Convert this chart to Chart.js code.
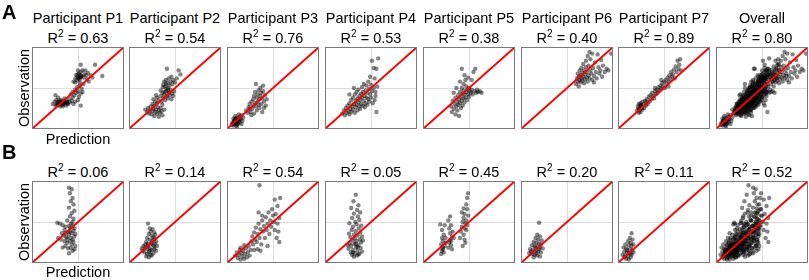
<!DOCTYPE html>
<html>
<head>
<meta charset="utf-8">
<script src="https://cdn.jsdelivr.net/npm/chart.js@4.4.1/dist/chart.umd.min.js"></script>
<style>
  html, body { margin: 0; padding: 0; background: #fff; }
  body { width: 809px; height: 280px; position: relative; overflow: hidden;
         font-family: "Liberation Sans", Arial, sans-serif; color: #000; }
  .txt { position: absolute; font-size: 14.5px; line-height: 16px; height: 16px;
         text-align: center; white-space: nowrap; }
  .txt sup { font-size: 10px; line-height: 0; vertical-align: 6px; }
  .tag { position: absolute; font-size: 20px; font-weight: bold; line-height: 22px; }
  .cv { position: absolute; }
</style>
</head>
<body>
<script>
// axis units: 0..100 on both prediction (x) and observation (y)
const titles = ['Participant P1', 'Participant P2', 'Participant P3', 'Participant P4',
                'Participant P5', 'Participant P6', 'Participant P7', 'Overall'];
const r2A = ['0.63', '0.54', '0.76', '0.53', '0.38', '0.40', '0.89', '0.80'];
const r2B = ['0.06', '0.14', '0.54', '0.05', '0.45', '0.20', '0.11', '0.52'];
const axisTicks = [0, 50, 100];
const diagonal = [[0, 0], [100, 100]];

// row A: model fitted per participant
const partA1 = [[22,30],[24,33],[25,28],[26,35],[27,31],[28,29],[29,33],[30,27],[30,31],[31,35],[32,29],[33,32],[33,27],[34,30],[35,34],[36,31],[37,28],[38,33],[39,30],[40,36],[41,32],[43,34],[44,38],[45,30],[47,33],[50,35],[53,28],[25,41],[28,38],[35,37],
  [29.5,30],[31.5,32],[33.5,29.5],[30.5,34],[34.5,32],[27.5,33],[36.5,33],[32.5,30.5],[26.5,29],[38.5,31],
  [42,42],[44,45],[46,41],[47,48],[48,44],[49,51],[50,46],[51,39],[52,53],[53,43],[54,49],[55,45],[56,55],
  [45,58],[47,62],[48,66],[49,60],[50,64],[51,68],[52,61],[53,70],[53,79],[54,65],[55,72],[56,63],[57,67],[58,72],[59,66],[60,61],[61,69],[62,58],[64,66],[66,63],[69,79],[77,65],[50,72],[47,57],[52,57],
  [50.5,62],[52.5,66],[49.5,67],[51.5,63],[53.5,64]];
const partA2 = [[17,23],[19,20],[20,25],[21,18],[22,22],[23,27],[24,17],[25,21],[26,24],[27,15],[27,28],[28,20],[29,23],[30,18],[31,26],[32,14],[32,22],[33,19],[34,25],[35,21],[36,16],[36,29],[38,23],[30,31],[25,30],
  [26,36],[28,33],[30,38],[32,35],[34,40],[35,33],[36,44],[37,38],[38,42],[39,35],[40,46],[41,40],[42,37],[43,44],[44,41],[45,48],[46,36],[47,43],[48,40],[49,46],[34,47],[29,41],
  [37,54],[38,58],[39,52],[40,60],[41,74],[42,56],[43,62],[44,53],[45,58],[46,64],[47,55],[48,60],[50,57],[52,62],[54,72],[56,67],[40,55],[42,50],
  [38.5,45],[40.5,49],[36.5,51],[42.5,47]];
const partA3 = [[4,4],[5,7],[6,3],[7,9],[7,5],[8,11],[9,6],[9,3],[10,8],[11,12],[11,5],[12,9],[13,14],[13,7],[14,11],[15,5],[15,16],[16,9],[17,13],[6,12],[8,15],[10,2],[12,17],
  [5.5,5],[8.5,8],[10.5,6],[12.5,11],[7.5,10],[9.5,13],[6.5,8],
  [20,22],[22,19],[23,26],[24,30],[25,20],[26,33],[27,24],[28,36],[28,28],[29,18],[29,40],[30,31],[30,45],[31,27],[31,55],[32,38],[32,22],[33,42],[33,33],[34,29],[34,47],[35,36],[35,25],[36,40],[36,50],[37,30],[37,44],[38,20],[38,37],[39,53],[39,46],[40,33],[40,25],[41,41],[42,28],[43,36],[26,16],[24,24]];
const partA4 = [[18,18],[20,22],[21,16],[22,25],[23,19],[24,28],[25,21],[26,17],[26,31],[27,24],[28,20],[28,35],[29,27],[30,23],[30,38],[31,30],[32,19],[32,42],[33,26],[33,34],[34,29],[34,45],[35,22],[35,37],[36,32],[36,48],[37,27],[37,40],[38,35],[38,24],[39,43],[39,30],[40,51],[40,38],[41,28],[41,45],[42,34],[42,55],[43,40],[43,26],[44,47],[44,31],[45,38],[45,53],[46,44],[46,29],[47,36],[47,58],[48,49],[48,33],[49,42],[50,54],[50,38],[51,46],[51,84],[52,31],[53,75],[53,50],[54,62],[55,45],[55,40],[56,74],[56,20],[57,52],[58,87],[54,35],[31,50],[26,42],[49,64]];
const partA5 = [[30,27],[31,20],[32,34],[33,24],[34,30],[35,17],[35,38],[36,27],[37,33],[37,22],[38,41],[38,29],[39,36],[39,15],[40,45],[40,31],[41,25],[41,39],[42,50],[42,34],[42,74],[43,43],[43,28],[44,47],[44,37],[44,55],[45,32],[45,42],[46,60],[46,38],[47,45],[47,52],[48,35],[48,48],[49,63],[49,42],[50,50],[50,39],[51,46],[52,44],[53,60],[53,48],[54,42],[55,70],[56,46],[57,74],[58,44],[59,48],[60,45],[62,46],[64,44],[45,66],[40,58],[36,50],[33,44]];
const partA6 = [[60,55],[61,62],[62,58],[62,68],[63,52],[63,64],[64,60],[64,72],[65,57],[65,66],[66,62],[66,75],[67,59],[67,69],[68,64],[68,80],[69,56],[69,72],[70,61],[70,67],[71,76],[71,84],[72,63],[72,70],[73,58],[73,90],[74,66],[74,78],[75,62],[76,72],[76,86],[77,68],[78,60],[78,93],[79,75],[80,65],[81,82],[82,70],[83,62],[84,92],[85,76],[86,68],[87,72],[88,85],[89,64],[90,78],[92,70],[94,74],[96,72],[99,93],[75,95],[80,57]];
const partA7 = [[20,22],[21,27],[22,19],[22,30],[23,24],[24,20],[24,31],[25,27],[26,23],[26,33],[27,29],[28,25],[29,34],[30,28],[31,36],[32,30],[33,39],[34,33],[35,41],[36,36],[37,44],[38,40],[39,37],[40,46],[41,42],[42,48],[43,44],[44,51],[45,47],[46,53],[47,49],[48,56],[49,52],[50,58],[51,50],[52,60],[53,55],[54,63],[55,58],[56,66],[57,61],[58,70],[59,64],[60,67],[61,73],[62,62],[63,77],[64,70],[65,84],[66,74],[67,79],[68,86],[69,72],[47,60],[40,50],[30,32],[55,52],
  [21.5,24],[23.5,28],[22.5,22],[25.5,25],[24.5,29]];

// row B: model transferred across participants
const partB1 = [[40,93],[43,91],[41,86],[44,80],[42,76],[45,72],[40,68],[46,64],[43,61],[41,57],[45,54],[38,52],[27,49],[30,48],[33,46],[36,44],[42,48],[44,45],[46,42],[35,40],[39,38],[41,42],[43,36],[45,39],[47,35],[32,36],[34,33],[37,31],[40,34],[42,30],[44,28],[46,32],[28,30],[31,28],[35,26],[38,24],[41,26],[43,22],[45,25],[47,20],[36,20],[39,17],[42,18],[44,14],[33,18],[40,11],[46,16],[38,29],[41,38],[44,50],[40,45],[36,36]];
const partB2 = [[20,48],[22,42],[25,41],[23,38],[27,37],[21,35],[24,33],[26,31],[28,34],[19,30],[22,28],[25,27],[27,29],[29,26],[18,25],[20,23],[23,22],[26,21],[28,23],[30,20],[15,20],[17,18],[19,16],[22,17],[24,15],[27,16],[29,14],[14,14],[16,12],[19,10],[21,12],[23,9],[26,11],[18,7],[21,6],[24,8],[20,20],[24,24],[17,22],[22,14],[27,19],[13,17]];
const partB3 = [[8,8],[10,12],[11,5],[12,9],[13,15],[14,3],[15,11],[16,7],[17,14],[18,4],[19,10],[20,17],[21,6],[22,12],[23,20],[24,8],[25,15],[18,21],[14,18],[26,26],[27,32],[28,22],[29,37],[30,28],[31,43],[32,25],[33,35],[34,48],[35,30],[35,96],[36,41],[37,22],[38,52],[39,38],[40,45],[41,30],[42,56],[43,40],[44,20],[44,48],[45,62],[46,35],[47,52],[48,44],[49,66],[50,58],[51,50],[52,78],[52,40],[53,60],[54,30],[55,70],[55,48],[56,38],[57,25],[58,80],[57,55],[29,15],[33,16],[36,14],[34,62],[38,58]];
const partB4 = [[33,84],[30.5,76],[36,71],[28,67.5],[34.5,65],[38,62],[31,60.5],[35.5,57],[29,55],[37,52.5],[32.5,50],[26,48.5],[34,47],[39,45.5],[30,44],[36.5,42],[28.5,40],[33,38.5],[38,37],[25.5,35.5],[31,34],[35,33.5],[40,32],[27,31],[32,29.5],[37.5,28.5],[29.5,27],[34,26],[39,24.5],[26.5,23.5],[31.5,22.5],[36,21],[28,20],[33.5,18.5],[38.5,17.5],[25,16.5],[30,15],[35,14.5],[40,13],[27.5,12],[32,11],[37,10.5],[29,9],[34.5,8],[31,6.5],[36,9.5],[24,21],[41,27],[33,23],[30,12],[35,19]];
const partB5 = [[19,10],[20,14],[21,18],[22,12],[19,22],[21,26],[23,20],[20,30],[22,34],[24,24],[20,40],[23,46],[18,47],[21,16],[24,30],
  [27,18],[28,24],[29,28],[30,21],[31,32],[29,36],[28,42],[30,46],[32,38],[31,16],[33,30],[29,57],[27,52],[30,26],
  [40,30],[41,38],[42,44],[43,50],[44,34],[44,55],[45,42],[45,60],[46,48],[46,24],[47,52],[47,40],[48,46],[48,66],[49,58],[42,62],[43,20],[45,28],[47,72],[48,80],[49,86],[44,67]];
const partB6 = [[19,49],[17,34],[20,32],[15,30],[18,28],[22,27],[13,25],[16,24],[19,23],[21,22],[11,21],[14,20],[17,19],[20,18],[23,17],[9,16],[12,15],[15,14],[18,13],[21,12],[8,11],[11,10],[14,9],[17,8],[20,7],[13,6],[16,11],[10,13],[19,16],[15,18]];
const partB7 = [[14,36],[12,30],[15,28],[10,26],[13,24],[7,22],[11,21],[14,20],[16,22],[5,18],[8,17],[12,16],[15,15],[6,13],[9,12],[13,11],[16,12],[4,9],[7,8],[10,7],[13,6],[8,4],[11,3],[14,9],[9,15],[11,11],[6,6]];

const rowA = [partA1, partA2, partA3, partA4, partA5, partA6, partA7];
const rowB = [partB1, partB2, partB3, partB4, partB5, partB6, partB7];
rowA.push([].concat(...rowA));   // overall = all participants pooled
rowB.push([].concat(...rowB));

const PAD = 4, BOX_W = 90, BOX_H = 80;

// draws the full frame around the axes, like a matlab box
const boxPlugin = {
  id: 'box',
  afterDraw(chart) {
    const a = chart.chartArea, ctx = chart.ctx;
    ctx.save();
    ctx.strokeStyle = '#7a7a7a';
    ctx.lineWidth = 1;
    ctx.strokeRect(a.left - 0.5, a.top - 0.5, a.right - a.left + 1, a.bottom - a.top + 1);
    ctx.restore();
  }
};

function addText(html, cls, left, top, width) {
  const d = document.createElement('div');
  d.className = cls;
  d.innerHTML = html;
  d.style.left = left + 'px';
  d.style.top = top + 'px';
  if (width) d.style.width = width + 'px';
  document.body.appendChild(d);
  return d;
}

function axisOpts() {
  return {
    type: 'linear', min: axisTicks[0], max: axisTicks[2],
    afterBuildTicks: s => { s.ticks = axisTicks.map(v => ({ value: v })); },
    ticks: { display: false },
    grid: { drawTicks: false, lineWidth: 1,
            color: c => (c.tick && c.tick.value === axisTicks[1]) ? '#dcdcdc' : 'rgba(0,0,0,0)' },
    border: { display: false }
  };
}

function makePanel(left, top, pts) {
  const cv = document.createElement('canvas');
  cv.className = 'cv';
  cv.width = BOX_W + 2 * PAD;
  cv.height = BOX_H + 2 * PAD;
  cv.style.left = (left - PAD) + 'px';
  cv.style.top = (top - PAD) + 'px';
  document.body.appendChild(cv);
  new Chart(cv, {
    type: 'scatter',
    data: {
      datasets: [
        { data: diagonal.map(p => ({ x: p[0], y: p[1] })), showLine: true, pointRadius: 0,
          borderColor: '#ff0000', borderWidth: 2, order: 0 },
        { data: pts.map(p => ({ x: p[0], y: p[1] })), pointRadius: 2.2, borderWidth: 0,
          backgroundColor: 'rgba(0,0,0,0.48)', order: 1 }
      ]
    },
    options: {
      responsive: false, animation: false, devicePixelRatio: 1,
      layout: { padding: PAD },
      plugins: { legend: { display: false }, tooltip: { enabled: false } },
      scales: { x: axisOpts(), y: axisOpts() }
    },
    plugins: [boxPlugin]
  });
}

const TOP_A = 48, TOP_B = 182;
for (let i = 0; i < 8; i++) {
  const left = Math.round(32.5 + i * 97.8);
  const cx = left + BOX_W / 2;
  addText(titles[i], 'txt', cx - 50, 9.5, 100);
  addText('R<sup>2</sup> = ' + r2A[i], 'txt', cx - 50, 30, 100);
  addText('R<sup>2</sup> = ' + r2B[i], 'txt', cx - 50, 163.7, 100);
  makePanel(left, TOP_A, rowA[i]);
  makePanel(left, TOP_B, rowB[i]);
}

// panel letters and axis names (first column only)
addText('A', 'tag', 2, 1);
addText('B', 'tag', 2, 141);
addText('Prediction', 'txt', 33, 130.6, 90);
addText('Prediction', 'txt', 33, 264.3, 90);
const obsA = addText('Observation', 'txt', 23.5 - 45, 88 - 8, 90);
obsA.style.transform = 'rotate(-90deg)';
const obsB = addText('Observation', 'txt', 23.5 - 45, 222 - 8, 90);
obsB.style.transform = 'rotate(-90deg)';
</script>
</body>
</html>
